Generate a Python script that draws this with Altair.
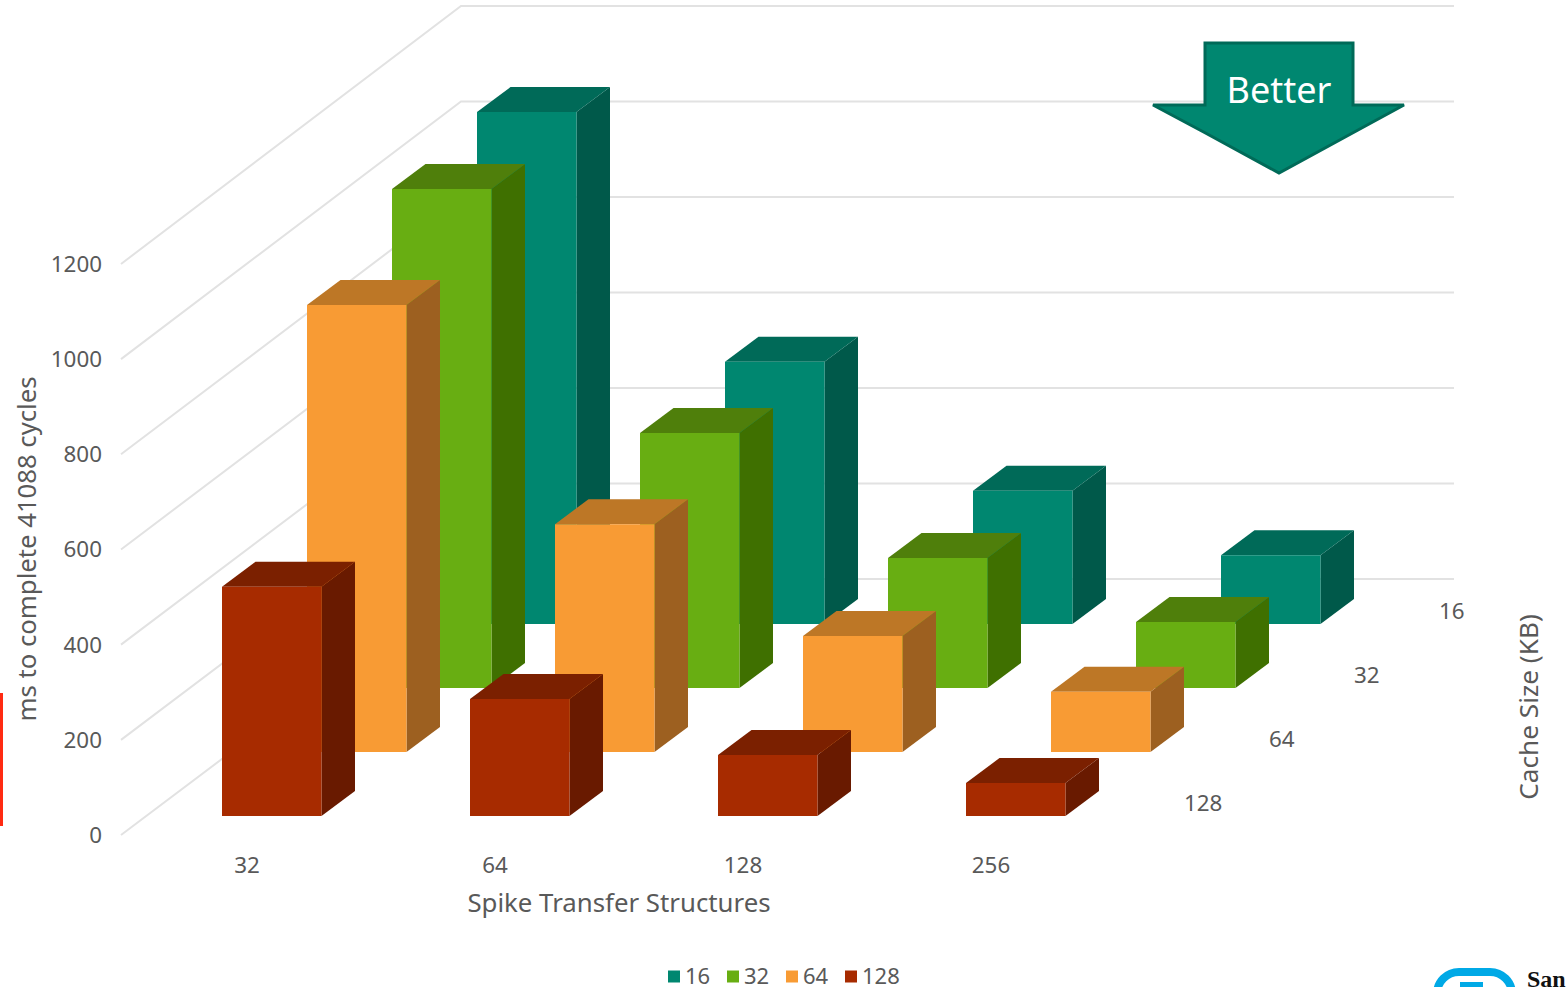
import altair as alt
import pandas as pd

# Chart content
cache_sizes = [16, 32, 64, 128]
structures = [32, 64, 128, 256]
ms_16 = [1072, 549, 279, 144]
ms_32 = [1045, 534, 272, 138]
ms_64 = [936, 477, 243, 126]
ms_128 = [480, 245, 128, 69]
y_ticks = [0, 200, 400, 600, 800, 1000, 1200]

front_colors = ["#008770", "#68ae12", "#f89b34", "#a72b00"]
top_colors = ["#006a58", "#4f7f0b", "#bd7726", "#7b2000"]
side_colors = ["#00594a", "#3f7000", "#9d6020", "#691a00"]

W, H = 1567, 987
FONT = "Noto Sans"
TEXT = "#595959"

# Oblique projection of the 3D scene onto the page
PX_PER_MS = 95.5 / 200
FRONT_PX_PER_MS = 95.17 / 200
FLOOR_Y = 834
WALL_FRONT_FLOOR_Y, WALL_BACK_FLOOR_Y = 835, 579
GROUP_STEP = 248
ROW_DX, ROW_DY = 85, 64
DEPTH_DX, DEPTH_DY = 33.5, 25
BAR_W = 99.5
FRONT_ROW_X = 222
FRONT_ROW_LIFT = 18


def ms_from_px(py):
    return (FLOOR_Y - py) / PX_PER_MS


def wall_front_ms(tick):
    return ms_from_px(WALL_FRONT_FLOOR_Y - tick * FRONT_PX_PER_MS)


def wall_back_ms(tick):
    return ms_from_px(WALL_BACK_FLOOR_Y - tick * PX_PER_MS)


x_scale = alt.Scale(domain=[0, W], range=[0, W], nice=False, zero=False)
y_scale = alt.Scale(domain=[ms_from_px(H), ms_from_px(0)], range=[H, 0], nice=False, zero=False)
X = lambda f="x": alt.X(f"{f}:Q", scale=x_scale, axis=None)
Y = lambda f="y": alt.Y(f"{f}:Q", scale=y_scale, axis=None)


def row_from_front(series_index):
    return len(cache_sizes) - 1 - series_index


def base_ms(series_index):
    return (FRONT_ROW_LIFT + ROW_DY * row_from_front(series_index)) / PX_PER_MS


def left_x(group, series_index):
    return FRONT_ROW_X + GROUP_STEP * group + ROW_DX * row_from_front(series_index)


DEPTH_MS = DEPTH_DY / PX_PER_MS
layers = []

# Back and side wall gridlines
WALL_FRONT_X, WALL_BACK_X, WALL_END_X = 121, 461, 1454
grid = []
for t in y_ticks:
    grid += [
        {"tick": t, "o": 0, "x": WALL_FRONT_X, "y": wall_front_ms(t)},
        {"tick": t, "o": 1, "x": WALL_BACK_X, "y": wall_back_ms(t)},
        {"tick": t, "o": 2, "x": WALL_END_X, "y": wall_back_ms(t)},
    ]
layers.append(
    alt.Chart(pd.DataFrame(grid))
    .mark_line(color="#e2e2e2", strokeWidth=2)
    .encode(x=X(), y=Y(), detail="tick:N", order="o:Q")
)

# Bars, painted from the back row to the front row
all_values = [ms_16, ms_32, ms_64, ms_128]
color_scale = alt.Scale(domain=cache_sizes, range=front_colors)
legend = alt.Legend(
    title=None, orient="none", direction="horizontal", columns=4, padding=0,
    legendX=663, legendY=965.5, symbolType="square", symbolSize=144,
    symbolStrokeWidth=0, symbolOpacity=1, labelFont=FONT, labelFontSize=22,
    labelColor=TEXT, labelOffset=0, columnPadding=11,
)
for s, values in enumerate(all_values):
    base = base_ms(s)
    side, top, front = [], [], []
    for g, v in enumerate(values):
        xl = left_x(g, s)
        xr = xl + BAR_W
        y0, y1 = base, base + v
        side += [
            {"bar": g, "x": xr, "y": y0, "y2": y1},
            {"bar": g, "x": xr + DEPTH_DX, "y": y0 + DEPTH_MS, "y2": y1 + DEPTH_MS},
        ]
        top += [
            {"bar": g, "y": y1, "x": xl, "x2": xr},
            {"bar": g, "y": y1 + DEPTH_MS, "x": xl + DEPTH_DX, "x2": xr + DEPTH_DX},
        ]
        front.append({"x": xl, "x2": xr, "y": y0, "y2": y1, "cache": cache_sizes[s]})
    layers.append(
        alt.Chart(pd.DataFrame(side))
        .mark_area(color=side_colors[s], orient="vertical")
        .encode(x=X(), y=Y(), y2="y2:Q", detail="bar:N")
    )
    layers.append(
        alt.Chart(pd.DataFrame(top))
        .mark_area(color=top_colors[s], orient="horizontal")
        .encode(y=Y(), x=X(), x2="x2:Q", detail="bar:N")
    )
    layers.append(
        alt.Chart(pd.DataFrame(front))
        .mark_rect()
        .encode(
            x=X(), x2="x2:Q", y=Y(), y2="y2:Q",
            color=alt.Color("cache:O", scale=color_scale, legend=legend),
        )
    )

# Value axis labels
layers.append(
    alt.Chart(pd.DataFrame({"y": [wall_front_ms(t) for t in y_ticks], "label": [str(t) for t in y_ticks]}))
    .mark_text(align="right", baseline="middle", dy=1, font=FONT, fontSize=22.4, color=TEXT)
    .encode(x=alt.value(102), y=Y(), text="label:N")
)

# Category labels under the front row
layers.append(
    alt.Chart(pd.DataFrame({
        "x": [left_x(g, 3) + 25 for g in range(len(structures))],
        "label": [str(c) for c in structures],
    }))
    .mark_text(align="center", baseline="middle", font=FONT, fontSize=22.4, color=TEXT)
    .encode(x=X(), y=alt.value(866), text="label:N")
)

# Depth axis labels beside each row
depth_labels = pd.DataFrame({
    "x": [1184 + ROW_DX * row_from_front(s) for s in range(len(cache_sizes))],
    "y": [ms_from_px(804) + ROW_DY * row_from_front(s) / PX_PER_MS for s in range(len(cache_sizes))],
    "label": [str(c) for c in cache_sizes],
})
layers.append(
    alt.Chart(depth_labels)
    .mark_text(align="left", baseline="middle", font=FONT, fontSize=22.4, color=TEXT)
    .encode(x=X(), y=Y(), text="label:N")
)


def caption(text, x, y, size, angle=0):
    return alt.Chart(pd.DataFrame({"t": [text]})).mark_text(
        align="center", baseline="middle", font=FONT, fontSize=size, color=TEXT, angle=angle
    ).encode(x=alt.value(x), y=alt.value(y), text="t:N")


layers.append(caption("Spike Transfer Structures", 619, 904, 25.8))
layers.append(caption("ms to complete 41088 cycles", 28, 549, 25.7, 270))
layers.append(caption("Cache Size (KB)", 1530, 707, 26.2, 270))

# "Better" arrow callout
arrow_left, shaft_left, tip, shaft_right, arrow_right = 1153, 1205, 1279, 1353, 1404
shoulder, shaft_top, tip_y = 105, 43, 173
lower = lambda px: shoulder + (tip_y - shoulder) * (1 - abs(px - tip) / (arrow_right - tip))
arrow = pd.DataFrame([
    {"x": arrow_left, "y": ms_from_px(shoulder), "y2": ms_from_px(shoulder)},
    {"x": shaft_left, "y": ms_from_px(shoulder), "y2": ms_from_px(lower(shaft_left))},
    {"x": shaft_left, "y": ms_from_px(shaft_top), "y2": ms_from_px(lower(shaft_left))},
    {"x": tip, "y": ms_from_px(shaft_top), "y2": ms_from_px(tip_y)},
    {"x": shaft_right, "y": ms_from_px(shaft_top), "y2": ms_from_px(lower(shaft_right))},
    {"x": shaft_right, "y": ms_from_px(shoulder), "y2": ms_from_px(lower(shaft_right))},
    {"x": arrow_right, "y": ms_from_px(shoulder), "y2": ms_from_px(shoulder)},
])
layers.append(
    alt.Chart(arrow)
    .mark_area(color="#008770", stroke="#006a58", strokeWidth=3, orient="vertical")
    .encode(x=X(), y=Y(), y2="y2:Q")
)
layers.append(
    alt.Chart(pd.DataFrame({"t": ["Better"]}))
    .mark_text(align="center", baseline="middle", font=FONT, fontSize=36, color="#ffffff")
    .encode(x=alt.value(1279), y=alt.value(92), text="t:N")
)

# Page furniture: accent bar on the left edge and the logo cut off at the corner
layers.append(
    alt.Chart(pd.DataFrame({"a": [0]}))
    .mark_rect(color="#ff2a12")
    .encode(x=alt.value(0), x2=alt.value(3), y=alt.value(693), y2=alt.value(826))
)
layers.append(
    alt.Chart(pd.DataFrame({"a": [0]}))
    .mark_rect(fill=None, filled=False, stroke="#00a9e6", strokeWidth=8, cornerRadius=22)
    .encode(x=alt.value(1437), x2=alt.value(1512), y=alt.value(972), y2=alt.value(1030))
)
layers.append(
    alt.Chart(pd.DataFrame({"a": [0]}))
    .mark_rect(color="#00a9e6")
    .encode(x=alt.value(1460), x2=alt.value(1483), y=alt.value(982), y2=alt.value(987))
)
layers.append(
    alt.Chart(pd.DataFrame({"t": ["San"]}))
    .mark_text(align="left", baseline="alphabetic", font="Liberation Serif", fontWeight="bold",
               fontSize=24, color="#111111")
    .encode(x=alt.value(1527), y=alt.value(987), text="t:N")
)

chart = (
    alt.layer(*layers)
    .resolve_scale(color="shared")
    .properties(width=W, height=H, padding=0, autosize=alt.AutoSizeParams(type="none"), background="#ffffff")
    .configure_view(stroke=None)
)

chart.save("out.html", embed_options={"renderer": "svg", "actions": False})
